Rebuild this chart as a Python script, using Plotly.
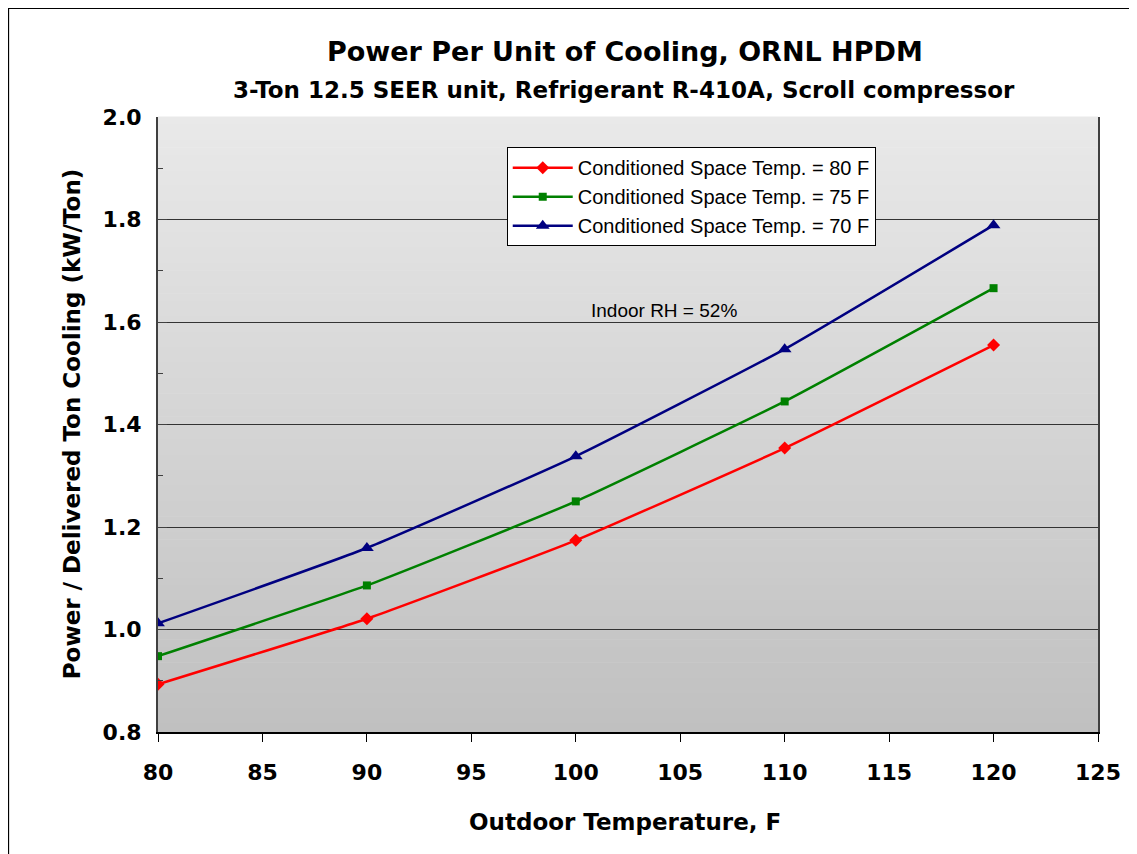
import plotly.graph_objects as go

outdoor_temp = [80, 90, 100, 110, 120]
kw_per_ton_80F = [0.893, 1.021, 1.174, 1.354, 1.555]
kw_per_ton_75F = [0.948, 1.086, 1.250, 1.445, 1.666]
kw_per_ton_70F = [1.012, 1.159, 1.338, 1.547, 1.789]
series_names = ["Conditioned Space Temp. = 80 F",
                "Conditioned Space Temp. = 75 F",
                "Conditioned Space Temp. = 70 F"]
x_ticks = [80, 85, 90, 95, 100, 105, 110, 115, 120, 125]
y_ticks = [0.8, 1.0, 1.2, 1.4, 1.6, 1.8, 2.0]

FONT = "Liberation Sans, Arial, sans-serif"
BFONT = "DejaVu Sans, Liberation Sans, Arial, sans-serif"

fig = go.Figure()
styles = [("#ff0000", "diamond", 10), ("#008000", "square", 8), ("#000080", "triangle-up", 12)]
for name, ys, (col, sym, sz) in zip(series_names, [kw_per_ton_80F, kw_per_ton_75F, kw_per_ton_70F], styles):
    fig.add_trace(go.Scatter(
        x=outdoor_temp, y=ys, name=name, mode="lines+markers",
        line=dict(color=col, width=2.5, shape="spline", smoothing=0.4),
        marker=dict(symbol=sym, size=sz, color=col),
    ))

# gradient plot background (bands)
shapes = []
n = 80
top = (233, 233, 233)
bot = (192, 192, 192)
for i in range(n):
    t = (i + 0.5) / n
    c = tuple(round(top[k] + (bot[k] - top[k]) * t) for k in range(3))
    shapes.append(dict(type="rect", xref="x domain", yref="y domain",
                       x0=0, x1=1, y0=1 - (i + 1) / n, y1=1 - i / n + 0.001,
                       fillcolor="rgb(%d,%d,%d)" % c, line=dict(width=0), layer="below"))
# outer chart border
shapes.append(dict(type="rect", xref="paper", yref="paper",
                   x0=-0.159, x1=1.2, y0=-0.4, y1=1.1764,
                   line=dict(color="black", width=1.2), fillcolor="rgba(0,0,0,0)"))

fig.update_layout(
    width=1129, height=846,
    margin=dict(l=150, r=39, t=109, b=122),
    paper_bgcolor="white", plot_bgcolor="rgba(0,0,0,0)",
    font=dict(family=FONT, color="black"),
    shapes=shapes,
    showlegend=True,
    legend=dict(x=0.371, y=0.951, xanchor="left", yanchor="top",
                bgcolor="white", bordercolor="black", borderwidth=1,
                font=dict(family=FONT, size=20, color="black"),
                tracegroupgap=0, itemwidth=60),
    annotations=[
        dict(text="<b>Power Per Unit of Cooling, ORNL HPDM</b>", xref="paper", yref="paper",
             x=0.497, y=1.1057, xanchor="center", yanchor="middle", showarrow=False,
             font=dict(family=BFONT, size=27, color="black")),
        dict(text="<b>3-Ton 12.5 SEER unit, Refrigerant R-410A, Scroll compressor</b>", xref="paper", yref="paper",
             x=0.496, y=1.0439, xanchor="center", yanchor="middle", showarrow=False,
             font=dict(family=BFONT, size=23, color="black")),
        dict(text="Indoor RH = 52%", xref="paper", yref="paper",
             x=0.538, y=0.6846, xanchor="center", yanchor="middle", showarrow=False,
             font=dict(family=FONT, size=19, color="black")),
        dict(text="<b>Outdoor Temperature, F</b>", xref="paper", yref="paper",
             x=0.497, y=-0.146, xanchor="center", yanchor="middle", showarrow=False,
             font=dict(family=BFONT, size=23, color="black")),
        dict(text="<b>Power / Delivered Ton Cooling (kW/Ton)</b>", xref="paper", yref="paper",
             x=-0.0915, y=0.502, xanchor="center", yanchor="middle", showarrow=False, textangle=-90,
             font=dict(family=BFONT, size=23, color="black")),
    ],
    xaxis=dict(range=[80, 125], tickvals=x_ticks, ticktext=["<b>%d</b>" % v for v in x_ticks],
               ticks="outside", ticklen=8, tickcolor="black",
               tickfont=dict(family=BFONT, size=22, color="black"), ticklabelstandoff=12,
               showline=True, linecolor="black", linewidth=1.5, showgrid=False, zeroline=False,
               mirror=False),
    yaxis=dict(range=[0.8, 2.0], tickvals=y_ticks, ticktext=["<b>%.1f</b>" % v for v in y_ticks],
               ticks="inside", ticklen=9, tickcolor="#404040",
               tickfont=dict(family=BFONT, size=22, color="black"), ticklabelstandoff=10,
               minor=dict(dtick=0.1, ticks="inside", ticklen=5, tickcolor="#404040", showgrid=False),
               showline=True, linecolor="#404040", linewidth=2, mirror=True,
               showgrid=True, gridcolor="#333333", gridwidth=1, zeroline=False),
)

fig.write_html("out.html")
